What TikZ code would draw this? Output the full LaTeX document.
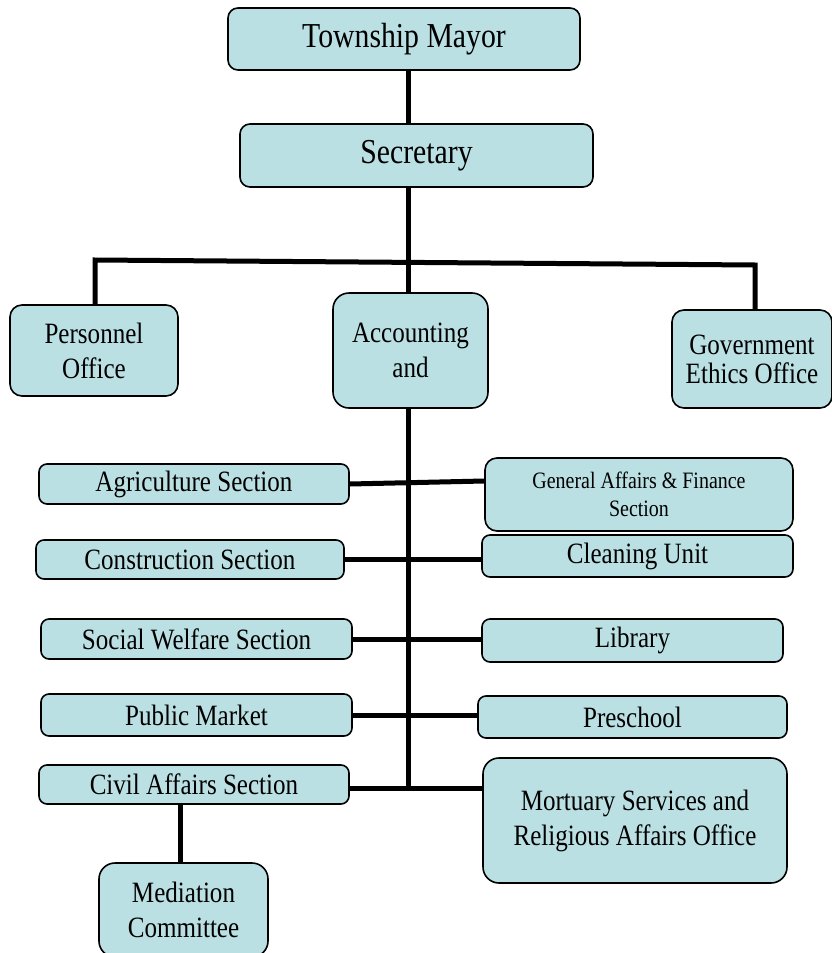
\documentclass[tikz,border=0pt]{standalone}
\usepackage{fontspec}
\setmainfont{Liberation Serif}[FakeStretch=0.85]
\definecolor{boxblue}{HTML}{BBE0E3}

\begin{document}
\begin{tikzpicture}[x=1pt,y=-1pt,
  unit/.style={draw=black,line width=1.6pt,fill=boxblue,rounded corners=8pt,
    align=center,inner sep=0pt,font=\fontsize{29.5}{35}\selectfont},
  bigunit/.style={unit,rounded corners=16pt},
  link/.style={line width=5pt}]
\useasboundingbox (0,0) rectangle (832,953);

% top of the chart
\node[unit,rounded corners=10pt,minimum width=352pt,minimum height=62pt,
  font=\fontsize{35}{38}\selectfont] at (404,39) (mayor) {Township Mayor};
\node[unit,rounded corners=10pt,minimum width=353pt,minimum height=63pt,
  font=\fontsize{35}{38}\selectfont] at (416.5,155.5) (secretary) {Secretary};
\node[unit,rounded corners=12pt,minimum width=168pt,minimum height=91pt] at (94,350.5) (personnel) {Personnel\\Office};
\node[bigunit,minimum width=155pt,minimum height=115pt] at (410.5,350.5) (accounting) {Accounting\\and};
\node[unit,rounded corners=12pt,minimum width=160pt,minimum height=98pt,
  font=\fontsize{29.5}{29}\selectfont] at (752,359) (ethics) {Government\\Ethics Office};

% sections, left column
\node[unit,minimum width=310pt,minimum height=40pt] at (194,484) (agri) {Agriculture Section};
\node[unit,minimum width=308pt,minimum height=39pt] at (190,559.5) (construction) {Construction Section};
\node[unit,minimum width=311pt,minimum height=40pt] at (196.5,639) (welfare) {Social Welfare Section};
\node[unit,minimum width=311pt,minimum height=42pt] at (196.5,715) (market) {Public Market};
\node[unit,minimum width=310pt,minimum height=39pt] at (194,784.5) (civil) {Civil Affairs Section};
\node[bigunit,minimum width=169pt,minimum height=94pt] at (183.5,910) (mediation) {Mediation\\Committee};

% sections, right column
\node[unit,rounded corners=12pt,minimum width=308pt,minimum height=73pt,
  font=\fontsize{23.5}{28}\selectfont] at (639,494.5) (general) {General Affairs \& Finance\\Section};
\node[unit,minimum width=311pt,minimum height=42pt] at (637.5,556) (cleaning) {Cleaning Unit};
\node[unit,minimum width=301pt,minimum height=43pt] at (632.5,640.5) (library) {Library};
\node[unit,minimum width=309pt,minimum height=42pt] at (632.5,717) (preschool) {Preschool};
\node[bigunit,minimum width=304pt,minimum height=125pt] at (635,820.5) (mortuary) {Mortuary Services and\\Religious Affairs Office};

% connectors
\coordinate (trunk) at (408,262);
\coordinate (busL) at (95,260);
\coordinate (busR) at (755,265);
\coordinate (spineend) at (408,788);
\coordinate (medline) at (180,830);
\draw[link] (mayor.south -| trunk) -- (secretary.north -| trunk);
\draw[link] (secretary.south -| trunk) -- (accounting.north -| trunk);
\draw[link] (personnel.north -| busL) -- (busL) -- (busR) -- (ethics.north -| busR);
\draw[link] (accounting.south -| trunk) -- (spineend);
\draw[link] (agri.east) -- ([yshift=13.5pt]general.west);
\draw[link] (construction.east) -- (cleaning.west |- construction.east);
\draw[link] (welfare.east) -- (library.west |- welfare.east);
\draw[link] (market.east) -- (preschool.west |- market.east);
\draw[link] (civil.east |- spineend) -- (mortuary.west |- spineend);
\draw[link] (civil.south -| medline) -- (mediation.north -| medline);
\end{tikzpicture}
\end{document}
